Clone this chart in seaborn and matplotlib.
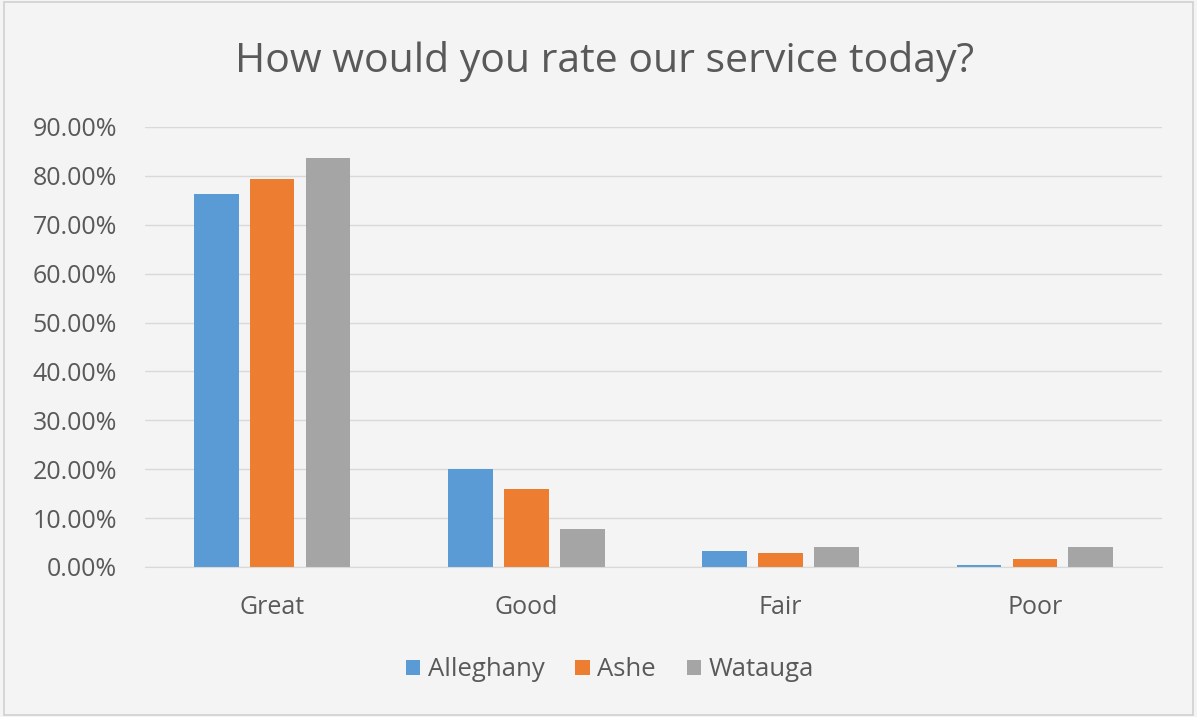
import pandas as pd
import numpy as np
import matplotlib.pyplot as plt
import seaborn as sns
from matplotlib.ticker import FuncFormatter

# Values (share of responses)
ratings = ['Great', 'Good', 'Fair', 'Poor']
counties = ['Alleghany', 'Ashe', 'Watauga']
alleghany = [0.763, 0.201, 0.032, 0.004]
ashe = [0.793, 0.160, 0.029, 0.017]
watauga = [0.837, 0.077, 0.040, 0.040]

df = pd.DataFrame({
    'rating': ratings * 3,
    'county': np.repeat(counties, len(ratings)),
    'share': alleghany + ashe + watauga,
})

sns.set_style('white')
plt.rcParams['font.family'] = ['Open Sans', 'DejaVu Sans']

palette = {'Alleghany': '#5B9BD5', 'Ashe': '#ED7D31', 'Watauga': '#A5A5A5'}
text_col = '#595959'

fig = plt.figure(figsize=(11.97, 7.17), dpi=100, facecolor='#f4f4f4')
ax = fig.add_axes([145 / 1197, 150 / 717, 1017 / 1197, 440 / 717])
ax.set_facecolor('#f4f4f4')

sns.barplot(data=df, x='rating', y='share', hue='county', order=ratings,
            hue_order=counties, palette=palette, width=0.66, gap=0.2,
            saturation=1, linewidth=0, ax=ax)

ax.set_ylim(0, 0.9)
ax.set_xlim(-0.5, 3.5)
ax.set_yticks(np.arange(0, 0.91, 0.1))
ax.yaxis.set_major_formatter(FuncFormatter(lambda v, p: f'{v * 100:.2f}%'))
ax.grid(axis='y', color='#d9d9d9', linewidth=1)
ax.set_axisbelow(True)
for s in ['top', 'right', 'left']:
    ax.spines[s].set_visible(False)
ax.spines['bottom'].set_color('#d9d9d9')
ax.tick_params(axis='both', length=0, labelsize=18, colors=text_col)
ax.tick_params(axis='y', pad=20)
ax.tick_params(axis='x', pad=20)
ax.set_xlabel('')
ax.set_ylabel('')

fig.text(605 / 1197, 1 - 62 / 717, 'How would you rate our service today?',
         ha='center', va='center', fontsize=29.5, color=text_col)

ax.legend_.remove()
handles, labels = ax.get_legend_handles_labels()
fig.legend(handles, labels, loc='center', bbox_to_anchor=(610 / 1197, 1 - 670 / 717),
           ncol=3, frameon=False, fontsize=18.5, handlelength=0.55, handleheight=0.55,
           handletextpad=0.3, columnspacing=1.2, labelcolor=text_col)

fig.patches.append(plt.Rectangle((0.003, 0.003), 0.994, 0.994, transform=fig.transFigure,
                                 fill=False, edgecolor='#d0d0d0', linewidth=1.2))

fig.savefig('out.png', dpi=100, facecolor=fig.get_facecolor())
